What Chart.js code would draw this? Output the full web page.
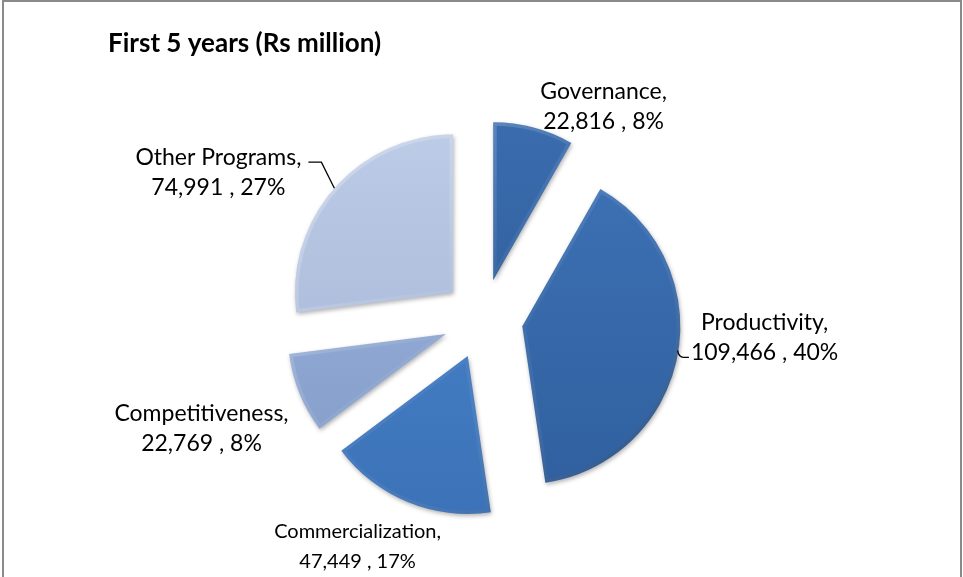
<!DOCTYPE html>
<html><head><meta charset="utf-8">
<script src="https://cdn.jsdelivr.net/npm/chart.js@4/dist/chart.umd.min.js"></script>
<style>
html,body{margin:0;padding:0;background:#fff;}
#wrap{position:relative;width:963px;height:577px;overflow:hidden;background:#fff;}
#frame{position:absolute;left:2px;top:0px;width:960px;height:640px;border:2px solid #8a8a8a;box-sizing:border-box;}
canvas{position:absolute;left:0;top:0;}
</style></head><body>
<div id="wrap"><div id="frame"></div><canvas id="c" width="963" height="577"></canvas></div>
<script>
// ---- data ----
const chartTitle = 'First 5 years (Rs million)';
const categories = ['Governance', 'Productivity', 'Commercialization', 'Competitiveness', 'Other Programs'];
const values = [22816, 109466, 47449, 22769, 74991];
const percentLabels = [8, 40, 17, 8, 27];

// ---- style ----
const topColors    = ['#3a6cae', '#3d71b4', '#4b84cb', '#9cb4dc', '#bccbe6'];
const bottomColors = ['#2d5a94', '#30609f', '#3b72b8', '#829bc8', '#a4b5d5'];
const EXPLODE = 40;
const RADIUS = 158;
const FONT = 'Lato, "Open Sans", sans-serif';
const LINE_H = 30;
const labelNudge = [[70, -21], [87, -18], [-50, 44], [-98, 35], [-116, -16]];
const labelSize = [23, 23, 20, 23, 23];

function fmt(n) { return n.toLocaleString('en-US'); }

function slicePath(ctx, a) {
  ctx.beginPath();
  ctx.moveTo(a.x, a.y);
  ctx.arc(a.x, a.y, a.outerRadius, a.startAngle, a.endAngle);
  ctx.closePath();
}

const explodePlugin = {
  id: 'explode',
  beforeDatasetDraw(chart, args) {
    const ctx = chart.ctx;
    args.meta.data.forEach((arc, i) => {
      const mid = (arc.startAngle + arc.endAngle) / 2;
      ctx.save();
      ctx.translate(Math.cos(mid) * EXPLODE, Math.sin(mid) * EXPLODE);
      ctx.save();
      ctx.shadowColor = 'rgba(0,0,0,0.3)';
      ctx.shadowBlur = 4;
      ctx.shadowOffsetX = 1;
      ctx.shadowOffsetY = 2;
      const g = ctx.createLinearGradient(0, arc.y - arc.outerRadius, 0, arc.y + arc.outerRadius);
      g.addColorStop(0, topColors[i]);
      g.addColorStop(1, bottomColors[i]);
      slicePath(ctx, arc);
      ctx.fillStyle = g;
      ctx.fill();
      ctx.restore();
      ctx.save();
      slicePath(ctx, arc);
      ctx.clip();
      const b = ctx.createLinearGradient(arc.x - arc.outerRadius, arc.y - arc.outerRadius, arc.x + arc.outerRadius, arc.y + arc.outerRadius);
      b.addColorStop(0, 'rgba(255,255,255,0.3)');
      b.addColorStop(0.5, 'rgba(255,255,255,0.04)');
      b.addColorStop(1, 'rgba(0,0,0,0.25)');
      ctx.lineWidth = 7;
      ctx.lineJoin = 'round';
      ctx.strokeStyle = b;
      slicePath(ctx, arc);
      ctx.stroke();
      ctx.restore();
      ctx.restore();
    });
    return false;
  },
  afterDatasetsDraw(chart) {
    const ctx = chart.ctx;
    const arcs = chart.getDatasetMeta(0).data;
    ctx.save();
    ctx.fillStyle = '#000';
    ctx.textBaseline = 'middle';
    ctx.font = 'bold 26px ' + FONT;
    ctx.textAlign = 'left';
    ctx.fillText(chartTitle, 108, 44);
    ctx.textAlign = 'center';
    arcs.forEach((arc, i) => {
      const mid = (arc.startAngle + arc.endAngle) / 2;
      const r = arc.outerRadius + EXPLODE;
      const px = arc.x + Math.cos(mid) * r;
      const py = arc.y + Math.sin(mid) * r;
      const cx = px + labelNudge[i][0];
      const cy = py + labelNudge[i][1];
      const l1 = categories[i] + ',';
      const l2 = fmt(values[i]) + ' , ' + percentLabels[i] + '%';
      ctx.font = labelSize[i] + 'px ' + FONT;
      const y1 = cy - LINE_H / 2, y2 = cy + LINE_H / 2;
      ctx.fillText(l1, cx, y1);
      ctx.fillText(l2, cx, y2);
      ctx.strokeStyle = '#000';
      ctx.lineWidth = 1.3;
      if (i === 1) {
        const left = cx - ctx.measureText(l2).width / 2;
        ctx.beginPath();
        ctx.moveTo(px, py - 5);
        ctx.quadraticCurveTo(px + 1, y2 + 5, px + 6, y2 + 5);
        ctx.lineTo(left - 2, y2 + 5);
        ctx.stroke();
      }
      if (i === 4) {
        const right = cx + ctx.measureText(l1).width / 2;
        ctx.beginPath();
        ctx.moveTo(px, py);
        ctx.lineTo(right + 20, y1 + 5);
        ctx.lineTo(right + 7, y1 + 5);
        ctx.stroke();
      }
    });
    ctx.restore();
  }
};

new Chart(document.getElementById('c'), {
  type: 'pie',
  data: {
    labels: categories,
    datasets: [{ data: values, backgroundColor: topColors, borderWidth: 0 }]
  },
  options: {
    responsive: false,
    animation: false,
    radius: RADIUS,
    layout: { padding: { left: 233, right: 230, top: 69, bottom: 8 } },
    plugins: { legend: { display: false }, tooltip: { enabled: false }, title: { display: false } }
  },
  plugins: [explodePlugin]
});
</script>
</body></html>
